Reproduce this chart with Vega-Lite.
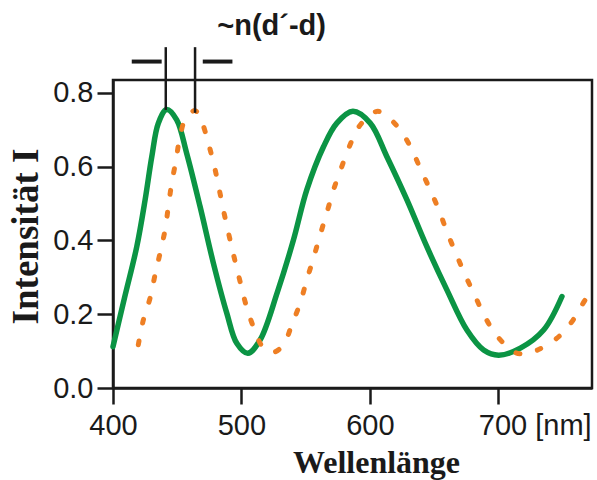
{
  "$schema": "https://vega.github.io/schema/vega-lite/v6.json",
  "width": 479,
  "height": 308,
  "autosize": {"type": "none"},
  "padding": {"left": 113, "top": 80, "right": 5, "bottom": 92},
  "background": "white",
  "config": {
    "view": {"stroke": "#1a1a1a", "strokeWidth": 2.5},
    "axis": {
      "domainColor": "#1a1a1a", "domainWidth": 2.5, "tickColor": "#1a1a1a", "tickWidth": 2.5,
      "tickSize": 16, "grid": false, "labelFont": "Liberation Sans", "labelFontSize": 29,
      "labelColor": "#1a1a1a", "titleFont": "Liberation Serif", "titleFontWeight": "bold",
      "titleColor": "#1a1a1a", "labelBound": false, "labelFlush": false, "labelOverlap": false
    }
  },
  "datasets": {
    "green": [
      {"x": 400, "y": 0.112}, {"x": 409, "y": 0.245}, {"x": 418.5, "y": 0.383}, {"x": 425, "y": 0.51},
      {"x": 430.2, "y": 0.627}, {"x": 435.3, "y": 0.718}, {"x": 441.8, "y": 0.755}, {"x": 449.6, "y": 0.727},
      {"x": 457.4, "y": 0.636}, {"x": 467.8, "y": 0.492}, {"x": 478.2, "y": 0.338}, {"x": 488.6, "y": 0.203},
      {"x": 496.4, "y": 0.121}, {"x": 505, "y": 0.094}, {"x": 514.5, "y": 0.13}, {"x": 528, "y": 0.26},
      {"x": 540.5, "y": 0.401}, {"x": 550.9, "y": 0.537}, {"x": 563.9, "y": 0.654}, {"x": 574.3, "y": 0.718},
      {"x": 586.8, "y": 0.75}, {"x": 600.3, "y": 0.718}, {"x": 613.3, "y": 0.627}, {"x": 628.9, "y": 0.51},
      {"x": 644.4, "y": 0.383}, {"x": 660, "y": 0.266}, {"x": 675.6, "y": 0.157}, {"x": 688.6, "y": 0.103},
      {"x": 700.3, "y": 0.089}, {"x": 717.2, "y": 0.108}, {"x": 735.3, "y": 0.157}, {"x": 749.6, "y": 0.248}
    ],
    "orange": [
      {"x": 419.7, "y": 0.117}, {"x": 423.6, "y": 0.184}, {"x": 428.8, "y": 0.243}, {"x": 432.7, "y": 0.306},
      {"x": 436.6, "y": 0.365}, {"x": 440.5, "y": 0.428}, {"x": 443.1, "y": 0.492}, {"x": 445.7, "y": 0.555},
      {"x": 449.1, "y": 0.618}, {"x": 452.2, "y": 0.682}, {"x": 456.5, "y": 0.73}, {"x": 463.9, "y": 0.752},
      {"x": 469.1, "y": 0.722}, {"x": 474.3, "y": 0.663}, {"x": 479, "y": 0.6}, {"x": 482.8, "y": 0.537},
      {"x": 486.5, "y": 0.474}, {"x": 490.6, "y": 0.41}, {"x": 494.5, "y": 0.352}, {"x": 499, "y": 0.288},
      {"x": 503.6, "y": 0.225}, {"x": 509.3, "y": 0.166}, {"x": 517.1, "y": 0.109}, {"x": 525, "y": 0.097},
      {"x": 532.7, "y": 0.117}, {"x": 539.2, "y": 0.171}, {"x": 545.7, "y": 0.23}, {"x": 550.9, "y": 0.293},
      {"x": 556.1, "y": 0.352}, {"x": 561.3, "y": 0.415}, {"x": 566.5, "y": 0.475}, {"x": 571.7, "y": 0.537},
      {"x": 577.7, "y": 0.596}, {"x": 584.2, "y": 0.656}, {"x": 592.5, "y": 0.713}, {"x": 606.2, "y": 0.75},
      {"x": 620.5, "y": 0.713}, {"x": 630.9, "y": 0.659}, {"x": 638.7, "y": 0.6}, {"x": 646.2, "y": 0.543},
      {"x": 653.5, "y": 0.485}, {"x": 660, "y": 0.424}, {"x": 667, "y": 0.365}, {"x": 674.3, "y": 0.306},
      {"x": 682.1, "y": 0.248}, {"x": 689.9, "y": 0.191}, {"x": 699.5, "y": 0.139}, {"x": 713.3, "y": 0.096},
      {"x": 722.4, "y": 0.094}, {"x": 730.6, "y": 0.103}, {"x": 745.7, "y": 0.135}, {"x": 758.2, "y": 0.184},
      {"x": 767.8, "y": 0.239}, {"x": 772, "y": 0.255}
    ],
    "vlines": [
      {"x": 441.1, "y": 0.924, "y2": 0.754},
      {"x": 463.9, "y": 0.924, "y2": 0.746}
    ],
    "hbars": [
      {"x": 414.6, "x2": 437.9, "y": 0.885},
      {"x": 469.9, "x2": 493, "y": 0.885}
    ],
    "label": [
      {"x": 523.5, "y": 0.957, "t": "~n(d´-d)"}
    ]
  },
  "layer": [
    {
      "data": {"name": "green"},
      "mark": {"type": "line", "color": "#0b9444", "strokeWidth": 5.5, "interpolate": "catmull-rom", "strokeCap": "round"},
      "encoding": {
        "x": {
          "field": "x", "type": "quantitative",
          "scale": {"domain": [400, 773], "nice": false, "zero": false},
          "axis": {
            "values": [400, 500, 600, 700],
            "labelPadding": 7,
            "labelExpr": "datum.value == 700 ? '700 [nm]' : datum.label",
            "labelAlign": {"condition": {"test": "datum.value == 700", "value": "left"}, "value": "center"},
            "labelOffset": {"condition": {"test": "datum.value == 700", "value": -20}, "value": 0},
            "title": "Wellenlänge",
            "titleFontSize": 32,
            "titleX": 263,
            "titleY": 84,
            "titleAnchor": null,
            "titleAlign": "center",
            "titleBaseline": "alphabetic"
          }
        },
        "y": {
          "field": "y", "type": "quantitative",
          "scale": {"domain": [0, 0.835], "nice": false, "zero": false},
          "axis": {
            "values": [0, 0.2, 0.4, 0.6, 0.8],
            "format": ".1f",
            "labelPadding": 4,
            "title": "Intensität I",
            "titleFontSize": 37,
            "titleAngle": -90,
            "titleX": -76,
            "titleY": 156,
            "titleAlign": "center",
            "titleBaseline": "alphabetic"
          }
        }
      }
    },
    {
      "data": {"name": "orange"},
      "mark": {"type": "line", "color": "#ee7f24", "strokeWidth": 5, "interpolate": "catmull-rom", "strokeCap": "round", "strokeDash": [4, 18]},
      "encoding": {
        "x": {"field": "x", "type": "quantitative"},
        "y": {"field": "y", "type": "quantitative"}
      }
    },
    {
      "data": {"name": "vlines"},
      "mark": {"type": "rule", "color": "#1a1a1a", "strokeWidth": 2.5, "clip": false},
      "encoding": {
        "x": {"field": "x", "type": "quantitative"},
        "y": {"field": "y", "type": "quantitative"},
        "y2": {"field": "y2"}
      }
    },
    {
      "data": {"name": "hbars"},
      "mark": {"type": "rule", "color": "#1a1a1a", "strokeWidth": 4, "clip": false},
      "encoding": {
        "x": {"field": "x", "type": "quantitative"},
        "x2": {"field": "x2"},
        "y": {"field": "y", "type": "quantitative"}
      }
    },
    {
      "data": {"name": "label"},
      "mark": {"type": "text", "font": "Liberation Sans", "fontWeight": "bold", "fontSize": 29, "color": "#1a1a1a", "align": "center", "baseline": "alphabetic", "clip": false},
      "encoding": {
        "x": {"field": "x", "type": "quantitative"},
        "y": {"field": "y", "type": "quantitative"},
        "text": {"field": "t"}
      }
    }
  ]
}
